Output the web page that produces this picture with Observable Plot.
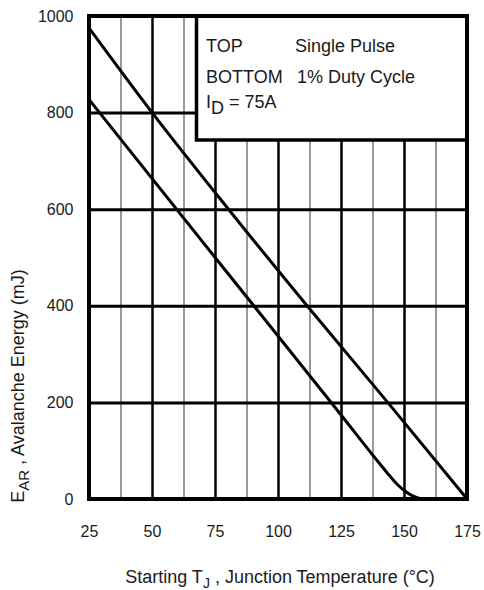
<!DOCTYPE html>
<html>
<head>
<meta charset="utf-8">
<script src="https://cdn.jsdelivr.net/npm/d3@7"></script>
<script src="https://cdn.jsdelivr.net/npm/@observablehq/plot@0.6"></script>
<style>
  html, body { margin: 0; padding: 0; background: white; }
  #chart { position: relative; width: 484px; height: 590px; }
</style>
</head>
<body>
<div id="chart"></div>
<script>
// ---- data ----
const singlePulseTemp = [25, 50, 80, 112, 144, 175];
const singlePulseEnergy = [975, 800, 602, 397, 197, 0];
const dutyTemp = [25, 75, 125, 138, 143, 147, 150, 153, 156, 158];
const dutyEnergy = [827, 500, 174, 88, 56, 32, 18, 8, 2, 0];
const xTicks = [25, 50, 75, 100, 125, 150, 175];
const xMajorGrid = [50, 75, 100, 125, 150];
const xMinorGrid = [37.5, 62.5, 87.5, 112.5, 137.5, 162.5];
const yTicks = [0, 200, 400, 600, 800, 1000];
const yGrid = [200, 400, 600, 800];

const single = singlePulseTemp.map((t, i) => ({t, e: singlePulseEnergy[i]}));
const duty = dutyTemp.map((t, i) => ({t, e: dutyEnergy[i]}));

const font = "'Liberation Sans', Arial, sans-serif";

const plot = Plot.plot({
  width: 484,
  height: 590,
  marginLeft: 89,
  marginRight: 17,
  marginTop: 16,
  marginBottom: 91,
  style: {fontFamily: font, fontSize: "16px", color: "#1a1a1a", background: "white", overflow: "visible"},
  x: {domain: [25, 175], label: null},
  y: {domain: [0, 1000], label: null},
  marks: [
    Plot.ruleX(xMinorGrid, {stroke: "#9a9a9a", strokeWidth: 2}),
    Plot.ruleX(xMajorGrid, {stroke: "black", strokeWidth: 2.5}),
    Plot.ruleY(yGrid, {stroke: "black", strokeWidth: 3}),
    Plot.line(single, {x: "t", y: "e", stroke: "black", strokeWidth: 3, curve: "monotone-x"}),
    Plot.line(duty, {x: "t", y: "e", stroke: "black", strokeWidth: 3, curve: "monotone-x"}),
    Plot.axisX({ticks: xTicks, tickSize: 0, tickPadding: 26, tickFormat: d => String(d), fontSize: 16}),
    Plot.axisY({ticks: yTicks, tickSize: 0, tickPadding: 16, tickFormat: d => String(d), fontSize: 16})
  ]
});

document.getElementById("chart").appendChild(plot);

const svg = d3.select(plot);

// legend box
svg.append("rect")
  .attr("x", 196.5).attr("y", 16).attr("width", 270.5).attr("height", 124)
  .attr("fill", "white").attr("stroke", "black").attr("stroke-width", 3.5);
// redraw frame over legend box
svg.append("rect")
  .attr("x", 89).attr("y", 16).attr("width", 378).attr("height", 483)
  .attr("fill", "none").attr("stroke", "black").attr("stroke-width", 4);

const lt = svg.append("g").attr("font-family", font).attr("font-size", 18)
  .attr("fill", "#1a1a1a").attr("text-anchor", "start");
lt.append("text").attr("x", 206).attr("y", 52).text("TOP");
lt.append("text").attr("x", 295).attr("y", 52).text("Single Pulse");
lt.append("text").attr("x", 206).attr("y", 83).text("BOTTOM");
lt.append("text").attr("x", 297).attr("y", 83).text("1% Duty Cycle");
const id = lt.append("text").attr("x", 206).attr("y", 108);
id.append("tspan").text("I");
id.append("tspan").attr("dy", 6).text("D");
id.append("tspan").attr("dy", -6).text(" = 75A");

// axis titles
const xt = svg.append("text").attr("font-family", font).attr("font-size", 18).attr("fill", "#1a1a1a")
  .attr("x", 280).attr("y", 583).attr("text-anchor", "middle");
xt.append("tspan").text("Starting T");
xt.append("tspan").attr("dy", 5).attr("font-size", 14).text("J");
xt.append("tspan").attr("dy", -5).text(" , Junction Temperature (°C)");

const yt = svg.append("text").attr("font-family", font).attr("font-size", 18).attr("fill", "#1a1a1a")
  .attr("transform", "translate(24,386) rotate(-90)").attr("text-anchor", "middle");
yt.append("tspan").text("E");
yt.append("tspan").attr("dy", 5).attr("font-size", 15).text("AR");
yt.append("tspan").attr("dy", -5).text(" , Avalanche Energy (mJ)");
</script>
</body>
</html>
